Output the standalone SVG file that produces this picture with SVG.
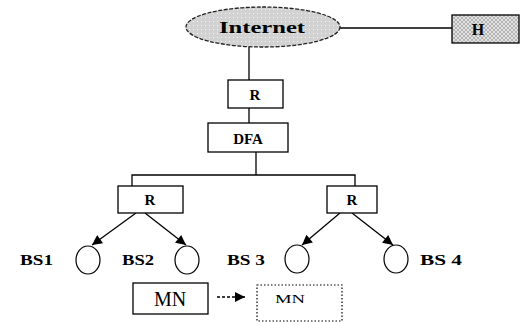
<svg xmlns="http://www.w3.org/2000/svg" width="520" height="322" viewBox="0 0 520 322">
  <defs>
    <pattern id="dots" width="4" height="4" patternUnits="userSpaceOnUse">
      <rect width="4" height="4" fill="#d2d2d2"/>
      <rect x="1" y="1" width="1" height="1" fill="#f4f4f4"/>
    </pattern>
    <pattern id="hatch" width="4" height="4" patternUnits="userSpaceOnUse">
      <rect width="4" height="4" fill="#e2e2e2"/>
      <path d="M0,0 L4,4 M4,0 L0,4" stroke="#a8a8a8" stroke-width="0.8"/>
    </pattern>
    <marker id="ah" viewBox="0 0 10 10" refX="10" refY="5" markerWidth="12" markerHeight="10" markerUnits="userSpaceOnUse" orient="auto">
      <path d="M0,0 L10,5 L0,10 Z" fill="#000"/>
    </marker>
  </defs>
  <style>
    .box { fill: #fff; stroke: #000; stroke-width: 1.3; }
    .ln { stroke: #000; stroke-width: 1.3; fill: none; }
    .lbl { font-family: "Liberation Serif", "Times New Roman", serif; font-weight: bold; fill: #000; }
    .bs { fill: #fff; stroke: #000; stroke-width: 1.2; }
  </style>
  <rect width="520" height="322" fill="#fff"/>

  <g id="connectors">
    <line class="ln" x1="340" y1="28" x2="452" y2="28"/>
    <line class="ln" x1="249" y1="47" x2="249" y2="80"/>
    <line class="ln" x1="249" y1="108" x2="249" y2="123"/>
    <polyline class="ln" points="256,152 256,175"/>
    <polyline class="ln" points="132,186 132,175 355,175 355,186"/>
    <line class="ln" x1="136" y1="213" x2="92" y2="245" marker-end="url(#ah)"/>
    <line class="ln" x1="145" y1="213" x2="186" y2="245" marker-end="url(#ah)"/>
    <line class="ln" x1="340" y1="213" x2="302" y2="245" marker-end="url(#ah)"/>
    <line class="ln" x1="352" y1="213" x2="393" y2="245" marker-end="url(#ah)"/>
    <line class="ln" x1="217" y1="297" x2="245" y2="297" stroke-dasharray="3,2" marker-end="url(#ah)"/>
  </g>

  <g id="internet">
    <ellipse cx="263" cy="27" rx="77" ry="20" fill="url(#dots)" stroke="#222" stroke-width="1.3" stroke-dasharray="4,1.5"/>
    <text class="lbl" x="262" y="33" font-size="16" text-anchor="middle" textLength="86" lengthAdjust="spacingAndGlyphs">Internet</text>
  </g>

  <g id="host">
    <rect x="452" y="15" width="67" height="28" fill="url(#hatch)" stroke="#000" stroke-width="1.3"/>
    <text class="lbl" x="478" y="35" font-size="16" text-anchor="middle">H</text>
  </g>

  <g id="router-top">
    <rect class="box" x="228" y="80" width="55" height="28"/>
    <text class="lbl" x="255" y="100" font-size="15" text-anchor="middle">R</text>
  </g>

  <g id="dfa">
    <rect class="box" x="208" y="123" width="80" height="29"/>
    <text class="lbl" x="248" y="144" font-size="15" text-anchor="middle">DFA</text>
  </g>

  <g id="router-left">
    <rect class="box" x="118" y="186" width="65" height="27"/>
    <text class="lbl" x="150" y="205" font-size="15" text-anchor="middle">R</text>
  </g>

  <g id="router-right">
    <rect class="box" x="327" y="186" width="50" height="27"/>
    <text class="lbl" x="352" y="205" font-size="15" text-anchor="middle">R</text>
  </g>

  <g id="bs1">
    <ellipse class="bs" cx="88" cy="260" rx="12" ry="14"/>
    <text class="lbl" x="20" y="265" font-size="15" textLength="33" lengthAdjust="spacingAndGlyphs">BS1</text>
  </g>
  <g id="bs2">
    <ellipse class="bs" cx="187" cy="260" rx="12" ry="14"/>
    <text class="lbl" x="122" y="265" font-size="15" textLength="32" lengthAdjust="spacingAndGlyphs">BS2</text>
  </g>
  <g id="bs3">
    <ellipse class="bs" cx="297" cy="259" rx="12" ry="14"/>
    <text class="lbl" x="227" y="265" font-size="15" textLength="38" lengthAdjust="spacingAndGlyphs">BS 3</text>
  </g>
  <g id="bs4">
    <ellipse class="bs" cx="396" cy="259" rx="12" ry="14"/>
    <text class="lbl" x="420" y="265" font-size="15" textLength="42" lengthAdjust="spacingAndGlyphs">BS 4</text>
  </g>

  <g id="mn">
    <rect class="box" x="133" y="283" width="75" height="31"/>
    <text x="170" y="306" font-size="20" text-anchor="middle" font-family="Liberation Serif, serif" fill="#000">MN</text>
  </g>

  <g id="mn-new">
    <rect x="257" y="285" width="85" height="36" fill="#fff" stroke="#000" stroke-width="1.2" stroke-dasharray="1.5,2"/>
    <text x="290" y="303" font-size="13" text-anchor="middle" font-family="Liberation Serif, serif" fill="#000" textLength="30" lengthAdjust="spacingAndGlyphs">MN</text>
  </g>
</svg>
